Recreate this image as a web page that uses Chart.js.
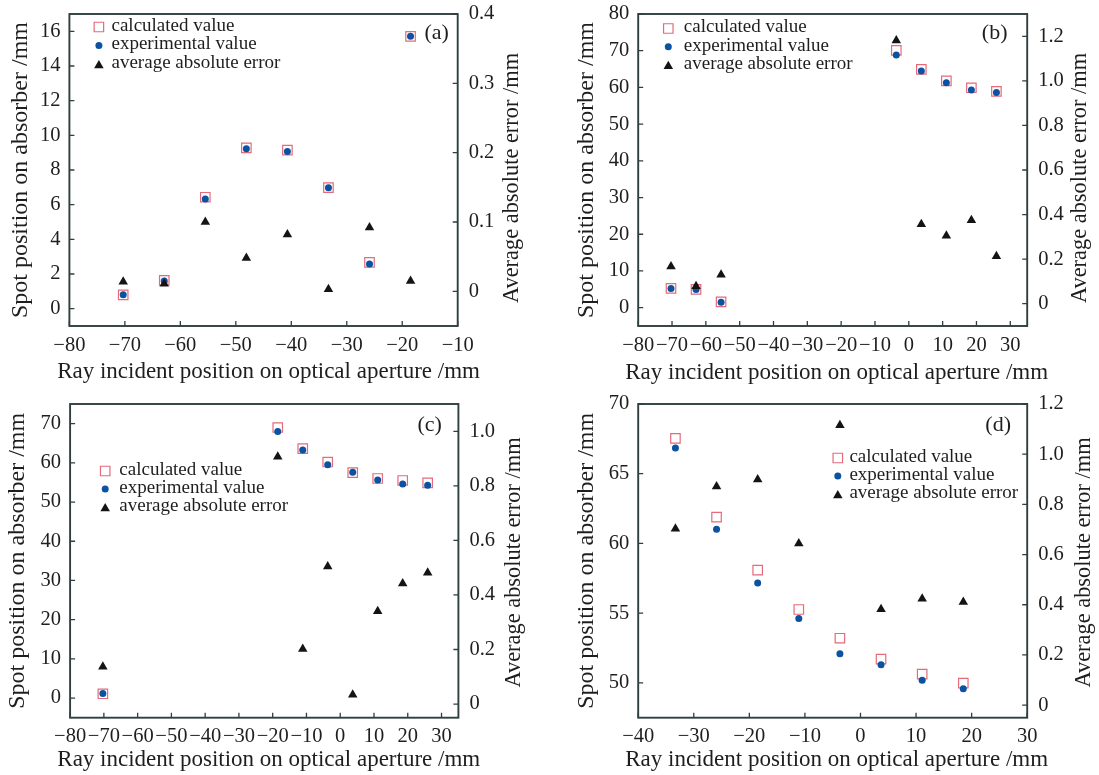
<!DOCTYPE html>
<html><head><meta charset="utf-8">
<script src="https://cdn.jsdelivr.net/npm/chart.js@4/dist/chart.umd.min.js"></script>
<style>
html,body{margin:0;padding:0;background:#fff}
body{width:1099px;height:775px;overflow:hidden;position:relative}
canvas{position:absolute;display:block}
</style></head><body>
<canvas id="ca" width="540" height="388" style="left:0;top:0"></canvas>
<canvas id="cb" width="549" height="388" style="left:550px;top:0"></canvas>
<canvas id="cc" width="540" height="385" style="left:0;top:390px"></canvas>
<canvas id="cd" width="549" height="385" style="left:550px;top:390px"></canvas>
<script>
// ---------- data ----------
const seriesNames = ['calculated value', 'experimental value', 'average absolute error'];
const xTitle = 'Ray incident position on optical aperture /mm';
const yTitle = 'Spot position on absorber /mm';
const y2Title = 'Average absolute error /mm';

// (a)
const xA    = [-70.3, -62.9, -55.5, -48.1, -40.7, -33.3, -25.9, -18.5];
const calcA = [0.80, 1.63, 6.43, 9.28, 9.15, 6.98, 2.67, 15.71];
const expA  = [0.80, 1.60, 6.33, 9.23, 9.07, 6.98, 2.57, 15.71];
const errA  = [0.014, 0.011, 0.100, 0.048, 0.082, 0.003, 0.092, 0.015];
const xTicksA  = [-80, -70, -60, -50, -40, -30, -20, -10];
const yTicksA  = [0, 2, 4, 6, 8, 10, 12, 14, 16];
const y2TicksA = [0, 0.1, 0.2, 0.3, 0.4];

// (b)
const xB    = [-70.3, -62.9, -55.5, -3.7, 3.7, 11.1, 18.5, 25.9];
const calcB = [5.25, 5.00, 1.55, 70.1, 64.9, 61.8, 59.9, 58.9];
const expB  = [5.20, 4.95, 1.50, 68.8, 64.5, 61.3, 59.3, 58.6];
const errB  = [0.167, 0.078, 0.130, 1.181, 0.357, 0.305, 0.375, 0.213];
const xTicksB  = [-80, -70, -60, -50, -40, -30, -20, -10, 0, 10, 20, 30];
const yTicksB  = [0, 10, 20, 30, 40, 50, 60, 70, 80];
const y2TicksB = [0, 0.2, 0.4, 0.6, 0.8, 1.0, 1.2];

// (c)
const xC    = [-70.3, -18.5, -11.1, -3.7, 3.7, 11.1, 18.5, 25.9];
const calcC = [1.1, 69.0, 63.6, 60.2, 57.5, 56.0, 55.5, 54.9];
const expC  = [1.2, 68.0, 63.3, 59.5, 57.6, 55.6, 54.6, 54.3];
const errC  = [0.137, 0.907, 0.202, 0.504, 0.034, 0.340, 0.442, 0.481];
const xTicksC  = [-80, -70, -60, -50, -40, -30, -20, -10, 0, 10, 20, 30];
const yTicksC  = [0, 10, 20, 30, 40, 50, 60, 70];
const y2TicksC = [0, 0.2, 0.4, 0.6, 0.8, 1.0];

// (d)
const xD    = [-33.3, -25.9, -18.5, -11.1, -3.7, 3.7, 11.1, 18.5];
const calcD = [67.54, 61.88, 58.08, 55.26, 53.20, 51.70, 50.62, 49.98];
const expD  = [66.85, 61.02, 57.17, 54.61, 52.08, 51.29, 50.19, 49.57];
const errD  = [0.703, 0.871, 0.899, 0.644, 1.115, 0.382, 0.424, 0.411];
const xTicksD  = [-40, -30, -20, -10, 0, 10, 20, 30];
const yTicksD  = [50, 55, 60, 65, 70];
const y2TicksD = [0, 0.2, 0.4, 0.6, 0.8, 1.0, 1.2];

// ---------- styles ----------
const FONT = "'Liberation Serif','Times New Roman',serif";
const FRAME = '#2f3f3f';
const TXT = '#1e1e1e';
const PINK = '#e46a7c';
const BLUE = '#0b52a0';
const BLACK = '#141414';
const YTITLE_SIZE = 24;
const XTITLE_SIZE = 23;
const Y2TITLE_SIZE = 22.4;
Chart.defaults.font.family = FONT;
Chart.defaults.color = TXT;

function fmt(v, d) {
  if (Math.abs(v) < 1e-9) return '0';
  return (v < 0 ? '\u2212' : '') + Math.abs(v).toFixed(d);
}

function mkPts(xs, ys) { return xs.map((x, i) => ({x: x, y: ys[i]})); }

// legend marker drawers (mirror Chart.js point styles)
function mRect(ctx, x, y, r) {
  const s = Math.SQRT1_2 * r;
  ctx.beginPath(); ctx.rect(x - s, y - s, 2 * s, 2 * s);
  ctx.lineWidth = 1.2; ctx.strokeStyle = PINK; ctx.stroke();
}
function mCircle(ctx, x, y, r) {
  ctx.beginPath(); ctx.arc(x, y, r, 0, Math.PI * 2); ctx.fillStyle = BLUE; ctx.fill();
}
function mTri(ctx, x, y, r) {
  ctx.beginPath();
  let a = 0;
  ctx.moveTo(x + Math.sin(a) * r, y - Math.cos(a) * r);
  a += 2 * Math.PI / 3; ctx.lineTo(x + Math.sin(a) * r, y - Math.cos(a) * r);
  a += 2 * Math.PI / 3; ctx.lineTo(x + Math.sin(a) * r, y - Math.cos(a) * r);
  ctx.closePath(); ctx.fillStyle = BLACK; ctx.fill();
}

const deco = {
  id: 'deco',
  afterDraw(chart, args, o) {
    const L = o.L;
    const {ctx, chartArea: a, scales} = chart;
    ctx.save();
    ctx.strokeStyle = FRAME;
    ctx.lineWidth = 1.3;
    const tl = 5;
    ctx.beginPath();
    scales.x.ticks.forEach(t => {
      const p = scales.x.getPixelForValue(t.value);
      ctx.moveTo(p, a.bottom); ctx.lineTo(p, a.bottom - tl);
    });
    scales.y.ticks.forEach(t => {
      const p = scales.y.getPixelForValue(t.value);
      ctx.moveTo(a.left, p); ctx.lineTo(a.left + tl, p);
    });
    scales.y2.ticks.forEach(t => {
      const p = scales.y2.getPixelForValue(t.value);
      ctx.moveTo(a.right, p); ctx.lineTo(a.right - tl, p);
    });
    ctx.stroke();
    ctx.lineWidth = 1.9;
    ctx.strokeRect(a.left, a.top, a.right - a.left, a.bottom - a.top);

    ctx.fillStyle = TXT;
    ctx.textAlign = 'center'; ctx.textBaseline = 'middle';
    // x axis title (unsqueezed)
    ctx.font = XTITLE_SIZE + 'px ' + FONT;
    ctx.fillText(xTitle, (a.left + a.right) / 2 + L.xtDx, L.xtY);
    // right axis title, reading bottom-to-top
    ctx.save();
    ctx.translate(L.rtX, L.rtY);
    ctx.rotate(-Math.PI / 2);
    ctx.font = Y2TITLE_SIZE + 'px ' + FONT;
    ctx.fillText(y2Title, 0, 0);
    ctx.restore();

    // legend
    ctx.font = '19px ' + FONT;
    ctx.textAlign = 'left'; ctx.textBaseline = 'middle';
    const drawers = [mRect, mCircle, mTri];
    const radii = [6.7, 3.5, 5.5];
    seriesNames.forEach((n, i) => {
      const yy = L.lgY[i];
      drawers[i](ctx, L.lgX, yy + (i === 2 ? 1.5 : 0), radii[i]);
      ctx.fillStyle = TXT;
      ctx.fillText(n, L.lgTX, yy - 1);
    });

    // panel label
    ctx.font = '22px ' + FONT;
    ctx.textAlign = 'center';
    ctx.fillText(o.label, L.lbX, L.lbY);
    ctx.restore();
  }
};

function build(id, P) {
  const L = P.L;
  const tickFont = {size: 20.5};
  new Chart(document.getElementById(id), {
    type: 'scatter',
    data: {
      datasets: [
        {label: seriesNames[0], data: mkPts(P.x, P.calc), yAxisID: 'y', order: 3,
         pointStyle: 'rect', pointRadius: 6.7, pointBorderWidth: 1.2,
         borderColor: PINK, backgroundColor: 'rgba(255,255,255,0)'},
        {label: seriesNames[1], data: mkPts(P.x, P.exp), yAxisID: 'y', order: 2,
         pointStyle: 'circle', pointRadius: 3.5, pointBorderWidth: 0,
         borderColor: BLUE, backgroundColor: BLUE},
        {label: seriesNames[2], data: mkPts(P.x, P.err), yAxisID: 'y2', order: 1,
         pointStyle: 'triangle', pointRadius: 5.5, pointBorderWidth: 0,
         borderColor: BLACK, backgroundColor: BLACK}
      ]
    },
    options: {
      responsive: false, animation: false, devicePixelRatio: 1,
      events: [],
      layout: {padding: {top: L.t, left: 0, right: 0, bottom: 0}},
      plugins: {legend: {display: false}, tooltip: {enabled: false}, deco: {L: L, label: P.label}},
      scales: {
        x: {
          type: 'linear', position: 'bottom', min: P.xMin, max: P.xMax,
          afterBuildTicks: s => { s.ticks = P.xTicks.map(v => ({value: v})); },
          afterFit: s => { s.height = L.h - L.b; s.paddingLeft = 0; s.paddingRight = 0; },
          grid: {display: false, drawTicks: false}, border: {display: false},
          ticks: {autoSkip: false, maxRotation: 0, minRotation: 0, padding: 7, font: tickFont, color: TXT,
                  callback: v => fmt(v, 0)},
          title: {display: false}
        },
        y: {
          type: 'linear', position: 'left', min: P.yMin, max: P.yMax,
          afterBuildTicks: s => { s.ticks = P.yTicks.map(v => ({value: v})); },
          afterFit: s => { s.width = L.l; s.paddingTop = 0; s.paddingBottom = 0; },
          grid: {display: false, drawTicks: false}, border: {display: false},
          ticks: {padding: 9, font: tickFont, color: TXT, callback: v => fmt(v, 0)},
          title: {display: true, text: yTitle, color: TXT, font: {size: YTITLE_SIZE}, padding: {top: L.ltPad, bottom: 0}}
        },
        y2: {
          type: 'linear', position: 'right', min: P.y2Min, max: P.y2Max,
          afterBuildTicks: s => { s.ticks = P.y2Ticks.map(v => ({value: v})); },
          afterFit: s => { s.width = L.w - L.r; s.paddingTop = 0; s.paddingBottom = 0; },
          grid: {display: false, drawTicks: false}, border: {display: false},
          ticks: {padding: 11, font: tickFont, color: TXT, callback: v => fmt(v, 1)}
        }
      }
    },
    plugins: [deco]
  });
}

build('ca', {x: xA, calc: calcA, exp: expA, err: errA, xMin: -80, xMax: -10, xTicks: xTicksA,
  yMin: -1, yMax: 17, yTicks: yTicksA, y2Min: -0.05, y2Max: 0.4, y2Ticks: y2TicksA, label: '(a)',
  L: {w: 540, h: 388, l: 69.4, r: 457.7, t: 14, b: 326, ltPad: 6.6, xtDx: 5, xtY: 371.7, rtX: 512, rtY: 178,
      lgX: 98.9, lgTX: 111.5, lgY: [27, 45.5, 64], lbX: 436.7, lbY: 33}});

build('cb', {x: xB, calc: calcB, exp: expB, err: errB, xMin: -80, xMax: 35, xTicks: xTicksB,
  yMin: -5, yMax: 80, yTicks: yTicksB, y2Min: -0.1, y2Max: 1.3, y2Ticks: y2TicksB, label: '(b)',
  L: {w: 549, h: 388, l: 88.2, r: 477.2, t: 14, b: 326, ltPad: 22.4, xtDx: 4, xtY: 373.3, rtX: 530.5, rtY: 178,
      lgX: 118.3, lgTX: 133.8, lgY: [28.5, 46.7, 64.7], lbX: 444.7, lbY: 33.3}});

build('cc', {x: xC, calc: calcC, exp: expC, err: errC, xMin: -80, xMax: 35, xTicks: xTicksC,
  yMin: -5, yMax: 75, yTicks: yTicksC, y2Min: -0.05, y2Max: 1.1, y2Ticks: y2TicksC, label: '(c)',
  L: {w: 540, h: 385, l: 70.1, r: 458.4, t: 14, b: 327.7, ltPad: 3.1, xtDx: 4.5, xtY: 370, rtX: 513.9, rtY: 172.5,
      lgX: 105.2, lgTX: 119.3, lgY: [81, 99, 117], lbX: 429.7, lbY: 35}});

build('cd', {x: xD, calc: calcD, exp: expD, err: errD, xMin: -40, xMax: 30, xTicks: xTicksD,
  yMin: 47.5, yMax: 70, yTicks: yTicksD, y2Min: -0.05, y2Max: 1.2, y2Ticks: y2TicksD, label: '(d)',
  L: {w: 549, h: 385, l: 88.2, r: 477.2, t: 14, b: 327.7, ltPad: 22.4, xtDx: 4, xtY: 370, rtX: 534, rtY: 172.5,
      lgX: 287.8, lgTX: 299.4, lgY: [68, 86, 104], lbX: 448.2, lbY: 35}});
</script>
</body></html>
